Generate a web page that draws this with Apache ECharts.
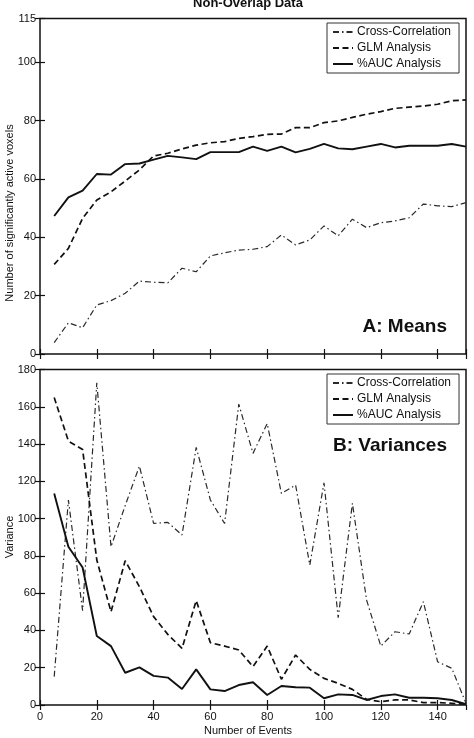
<!DOCTYPE html>
<html>
<head>
<meta charset="utf-8">
<script src="https://cdn.jsdelivr.net/npm/echarts@6/dist/echarts.min.js"></script>
<style>
  html, body { margin: 0; padding: 0; background: #fff; }
  #chart { width: 474px; height: 738px; }
</style>
</head>
<body>
<div id="chart"></div>
<script>
// number of events on the x axis
const events = [5, 10, 15, 20, 25, 30, 35, 40, 45, 50, 55, 60, 65, 70, 75,
  80, 85, 90, 95, 100, 105, 110, 115, 120, 125, 130, 135, 140, 145, 150]

// A: Means
const meanCrossCorr = [3.9, 10.7, 9, 16.8, 18.3, 20.8, 25, 24.6, 24.4, 29.4, 28.2, 33.6, 34.7, 35.6, 35.9,
  36.8, 40.8, 37.4, 39.1, 43.9, 40.5, 46.2, 43.3, 45, 45.6, 46.7, 51.4, 50.8, 50.5, 51.9]
const meanGlm = [30.7, 36.2, 46.5, 52.8, 55.6, 59.3, 63.1, 67.9, 68.8, 70.3, 71.6, 72.4, 72.8, 73.9, 74.5,
  75.3, 75.4, 77.6, 77.6, 79.3, 79.9, 81.1, 82.2, 83.1, 84.2, 84.6, 85, 85.6, 86.8, 87.1]
const meanAuc = [47.3, 53.7, 56, 61.7, 61.5, 65.1, 65.3, 66.6, 67.9, 67.4, 66.8, 69.2, 69.2, 69.2, 71.1,
  69.6, 71.1, 69.1, 70.3, 72, 70.5, 70.2, 71.1, 72, 70.8, 71.4, 71.4, 71.4, 72, 71.1]

// B: Variances
const varCrossCorr = [15.2, 110, 50.6, 172.9, 84.9, 107, 128.2, 97.4, 98, 91.2, 138.2, 110, 97.4, 161.4, 135,
  151, 113.5, 118, 75.1, 119.2, 46.8, 108.2, 56.3, 31.6, 39.3, 38.1, 55.4, 23.2, 19.7, 0.9]
const varGlm = [165, 141.6, 137.1, 77.8, 50, 77.4, 63.5, 47.4, 37.9, 30.4, 56, 33.4, 31.6, 29.5, 20.6,
  31.6, 13.8, 26.8, 19.1, 14.3, 11.6, 8.4, 3, 1.8, 2.7, 2.7, 1.3, 1.3, 0.9, 0.4]
const varAuc = [113.5, 84.9, 73.8, 37, 31.6, 17.3, 20.2, 15.6, 14.7, 8.6, 19.1, 8.4, 7.5, 10.7, 12.2,
  5.4, 10.2, 9.5, 9.3, 3.6, 5.7, 5.4, 2.7, 4.8, 5.7, 3.9, 3.9, 3.6, 2.7, 0.4]

const seriesNames = ['Cross-Correlation', 'GLM Analysis', '%AUC Analysis']
const meanTicks = [0, 20, 40, 60, 80, 100, 115]

const font = "'Liberation Sans', Arial, Helvetica, sans-serif"
const ink = '#111'

const styles = [
  { color: '#2a2a2a', width: 1.2, type: [6, 3, 1.5, 3] },
  { color: '#111', width: 1.7, type: [6, 3.5] },
  { color: '#111', width: 1.9, type: 'solid' }
]

const chart = echarts.init(document.getElementById('chart'))

const xAxisFor = (gridIndex, position, showLabel) => ({
  type: 'value',
  gridIndex,
  position,
  min: 0,
  max: 150,
  interval: 20,
  axisLine: { show: false },
  splitLine: { show: false },
  axisTick: { show: true, inside: true, length: 5, lineStyle: { color: ink, width: 1.2 } },
  axisLabel: { show: showLabel, showMaxLabel: false, color: ink, fontSize: 11, fontFamily: font, margin: 6 }
})

const yAxisFor = (gridIndex, position, showLabel, max, interval, custom) => {
  const axis = {
    type: 'value',
    gridIndex,
    position,
    min: 0,
    max,
    interval,
    axisLine: { show: false },
    splitLine: { show: false },
    axisTick: { show: true, inside: true, length: 5, lineStyle: { color: ink, width: 1.2 } },
    axisLabel: { show: showLabel, color: ink, fontSize: 11, fontFamily: font, margin: 4 }
  }
  if (custom) {
    axis.axisTick.customValues = custom
    axis.axisLabel.customValues = custom
  }
  return axis
}

const line = (name, values, style, axisIndex) => ({
  name,
  type: 'line',
  xAxisIndex: axisIndex,
  yAxisIndex: axisIndex,
  data: events.map((e, i) => [e, values[i]]),
  symbol: 'none',
  itemStyle: { color: style.color },
  lineStyle: style,
  animation: false
})

const legendFor = (top) => ({
  data: seriesNames,
  orient: 'vertical',
  left: 327,
  top,
  itemWidth: 20,
  itemHeight: 8,
  itemGap: 4,
  padding: [3, 8, 3, 5],
  backgroundColor: '#fff',
  borderColor: '#333',
  borderWidth: 1,
  selectedMode: false,
  itemStyle: { opacity: 0 },
  textStyle: { color: ink, fontSize: 12, fontFamily: font, padding: [0, 0, 0, -1] }
})

const gridFor = (top) => ({
  left: 40, top, right: 8, height: 335.5,
  outerBoundsMode: 'none',
  show: true, borderColor: ink, borderWidth: 1.5, backgroundColor: 'transparent'
})

chart.setOption({
  animation: false,
  grid: [gridFor(18.5), gridFor(369.5)],
  xAxis: [
    xAxisFor(0, 'bottom', false),
    xAxisFor(0, 'top', false),
    xAxisFor(1, 'bottom', true),
    xAxisFor(1, 'top', false)
  ],
  yAxis: [
    yAxisFor(0, 'left', true, 115, 20, meanTicks),
    yAxisFor(0, 'right', false, 115, 20, meanTicks),
    yAxisFor(1, 'left', true, 180, 20),
    yAxisFor(1, 'right', false, 180, 20)
  ],
  legend: [legendFor(23), legendFor(374)],
  series: [
    line(seriesNames[0], meanCrossCorr, styles[0], 0),
    line(seriesNames[1], meanGlm, styles[1], 0),
    line(seriesNames[2], meanAuc, styles[2], 0),
    line(seriesNames[0], varCrossCorr, styles[0], 2),
    line(seriesNames[1], varGlm, styles[1], 2),
    line(seriesNames[2], varAuc, styles[2], 2)
  ],
  graphic: [
    {
      type: 'text', x: 248, y: 3,
      style: { text: 'Non-Overlap Data', fill: ink, font: `bold 13px ${font}`, align: 'center', verticalAlign: 'middle' }
    },
    {
      type: 'text', x: 10, y: 213, rotation: Math.PI / 2,
      style: { text: 'Number of significantly active voxels', fill: ink, font: `11px ${font}`, align: 'center', verticalAlign: 'middle' }
    },
    {
      type: 'text', x: 10, y: 537, rotation: Math.PI / 2,
      style: { text: 'Variance', fill: ink, font: `11px ${font}`, align: 'center', verticalAlign: 'middle' }
    },
    {
      type: 'text', x: 248, y: 731,
      style: { text: 'Number of Events', fill: ink, font: `11px ${font}`, align: 'center', verticalAlign: 'middle' }
    },
    {
      type: 'text', x: 447, y: 327,
      style: { text: 'A: Means', fill: ink, font: `bold 19px ${font}`, align: 'right', verticalAlign: 'middle' }
    },
    {
      type: 'text', x: 447, y: 446,
      style: { text: 'B: Variances', fill: ink, font: `bold 19px ${font}`, align: 'right', verticalAlign: 'middle' }
    }
  ]
})
</script>
</body>
</html>
